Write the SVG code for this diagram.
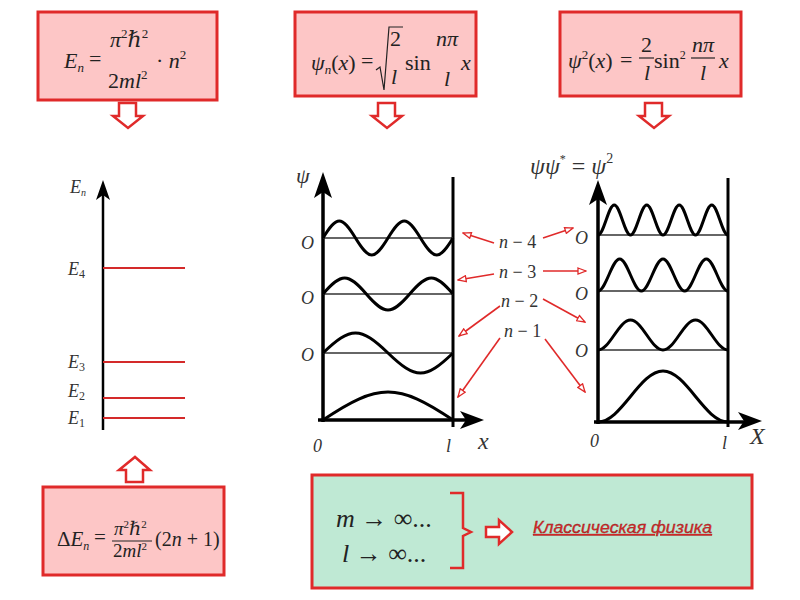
<svg xmlns="http://www.w3.org/2000/svg" width="800" height="600" viewBox="0 0 800 600">
<defs>
<style>
.box{fill:#fdc6c6;stroke:#e02a2a;stroke-width:3}
.gbox{fill:#bfe9d4;stroke:#e02a2a;stroke-width:3}
.harrow{fill:#ffffff;stroke:#e02a2a;stroke-width:2.5;stroke-linejoin:miter}
.m{font-family:"Liberation Serif","DejaVu Serif",serif;font-style:italic;font-size:22px;fill:#222}
.r{font-family:"Liberation Serif","DejaVu Serif",serif;font-style:normal;font-size:22px;fill:#222}
.up{font-style:normal}
.lab{font-family:"Liberation Serif","DejaVu Serif",serif;font-style:italic;font-size:18px;fill:#333}
.axis{stroke:#000;stroke-width:3.5;fill:none}
.wall{stroke:#000;stroke-width:3;fill:none}
.base{stroke:#333;stroke-width:1.5;fill:none}
.wave{stroke:#000;stroke-width:3;fill:none;stroke-linejoin:round}
.lvl{stroke:#d42a2a;stroke-width:2}
.conn{stroke:#e02a2a;stroke-width:1.6;fill:none;marker-end:url(#oa)}
</style>
<marker id="oa" viewBox="0 0 10 8" refX="9" refY="4" markerWidth="10" markerHeight="8" markerUnits="userSpaceOnUse" orient="auto">
<path d="M1,1 L9,4 L1,7 Z" fill="#fff" stroke="#e02a2a" stroke-width="1.3"/>
</marker>
</defs>

<!-- Formula boxes -->
<g id="box-energy">
<rect class="box" x="38" y="12" width="179" height="88"/>
<text class="m" x="64" y="68">E<tspan style="font-size:13px" dy="4">n</tspan></text>
<text class="r" x="89" y="66">=</text>
<text class="m" x="110" y="47">π<tspan class="up" style="font-size:13px" dy="-9">2</tspan><tspan dy="9">ℏ</tspan><tspan class="up" style="font-size:13px" dy="-9">2</tspan></text>
<text class="m" x="108" y="88"><tspan class="up">2</tspan>ml<tspan class="up" style="font-size:13px" dy="-9">2</tspan></text>
<text class="m" x="156" y="68"><tspan class="up">·</tspan> n<tspan class="up" style="font-size:13px" dy="-9">2</tspan></text>
</g>

<g id="box-psi">
<rect class="box" x="295" y="12" width="181" height="84"/>
<text class="m" x="311" y="70">ψ<tspan style="font-size:13px" dy="4">n</tspan><tspan class="up" dy="-4">(</tspan>x<tspan class="up">)</tspan></text>
<text class="r" x="361" y="68">=</text>
<path d="M376,70 L380,67 L384,90 L389,27 L403,27" fill="none" stroke="#222" stroke-width="1.2"/>
<text class="r" x="390" y="46">2</text>
<text class="m" x="391" y="84">l</text>
<text class="r" x="405" y="70">sin</text>
<text class="m" x="436" y="46">nπ</text>
<text class="m" x="444" y="86">l</text>
<text class="m" x="461" y="70">x</text>
</g>

<g id="box-psi2">
<rect class="box" x="560" y="12" width="181" height="84"/>
<text class="m" x="568" y="68">ψ<tspan class="up" style="font-size:13px" dy="-9">2</tspan><tspan class="up" dy="9">(</tspan>x<tspan class="up">)</tspan></text>
<text class="r" x="620" y="67">=</text>
<text class="r" x="641" y="52">2</text>
<line x1="639" y1="58" x2="654" y2="58" stroke="#222" stroke-width="1.2"/>
<text class="m" x="644" y="80">l</text>
<text class="r" x="654" y="68">sin<tspan style="font-size:12px" dy="-9">2</tspan></text>
<text class="m" x="692" y="52">nπ</text>
<line x1="691" y1="58" x2="715" y2="58" stroke="#222" stroke-width="1.2"/>
<text class="m" x="700" y="80">l</text>
<text class="m" x="719" y="68">x</text>
</g>

<g id="box-delta">
<rect class="box" x="43" y="487" width="181" height="88"/>
<text class="m" x="57" y="546" style="font-size:21px"><tspan class="up">Δ</tspan>E<tspan style="font-size:12px" dy="4">n</tspan></text>
<text class="r" x="94" y="544" style="font-size:21px">=</text>
<text class="m" x="114" y="535" style="font-size:19px">π<tspan class="up" style="font-size:11px" dy="-7">2</tspan><tspan dy="7">ℏ</tspan><tspan class="up" style="font-size:11px" dy="-7">2</tspan></text>
<line x1="112" y1="541" x2="152" y2="541" stroke="#222" stroke-width="1.1"/>
<text class="m" x="113" y="557" style="font-size:19px"><tspan class="up">2</tspan>ml<tspan class="up" style="font-size:11px" dy="-7">2</tspan></text>
<text class="r" x="155" y="546" style="font-size:20px">(2<tspan class="m" style="font-size:20px">n</tspan> + 1)</text>
</g>

<g id="box-classic">
<rect class="gbox" x="312" y="475" width="440" height="113"/>
<text class="m" x="336" y="527" style="font-size:26px">m <tspan class="up">→ ∞...</tspan></text>
<text class="m" x="342" y="562" style="font-size:26px">l <tspan class="up">→ ∞...</tspan></text>
<path d="M450,493 L463,493 L463,528 L471,532 L463,536 L463,568 L450,568" fill="none" stroke="#e02a2a" stroke-width="2.5"/>
<path class="harrow" d="M486,527 L499,527 L499,520 L512,532 L499,544 L499,537 L486,537 Z"/>
<text x="533" y="533" font-family="'Liberation Sans','DejaVu Sans',sans-serif" font-style="italic" font-size="16" fill="#e02a2a" stroke="#7a1a1a" stroke-width="0.3" text-decoration="underline" textLength="179" lengthAdjust="spacingAndGlyphs">Классическая физика</text>
</g>

<!-- hollow block arrows -->
<g id="arrows-block">
<path class="harrow" d="M119,103 L136,103 L136,116 L143,116 L128,128 L113,116 L119,116 Z"/>
<path class="harrow" d="M378,103 L395,103 L395,116 L402,116 L387,128 L372,116 L378,116 Z"/>
<path class="harrow" d="M645,103 L662,103 L662,116 L669,116 L654,128 L639,116 L645,116 Z"/>
<path class="harrow" d="M126,482 L143,482 L143,470 L150,470 L135,457 L119,470 L126,470 Z"/>
</g>

<!-- Energy levels -->
<g id="energy-diagram">
<line x1="103" y1="190" x2="103" y2="430" stroke="#000" stroke-width="2.5"/>
<path d="M103,180 L96,200 L103,195 L110,200 Z" fill="#000"/>
<line class="lvl" x1="103" y1="268" x2="185" y2="268"/>
<line class="lvl" x1="103" y1="362" x2="185" y2="362"/>
<line class="lvl" x1="103" y1="398" x2="185" y2="398"/>
<line class="lvl" x1="103" y1="418" x2="185" y2="418"/>
<text class="lab" x="70" y="193">E<tspan style="font-size:10px" dy="3">n</tspan></text>
<text class="lab" x="68" y="275">E<tspan class="up" style="font-size:12px" dy="3">4</tspan></text>
<text class="lab" x="68" y="368">E<tspan class="up" style="font-size:12px" dy="3">3</tspan></text>
<text class="lab" x="68" y="397">E<tspan class="up" style="font-size:12px" dy="3">2</tspan></text>
<text class="lab" x="68" y="424">E<tspan class="up" style="font-size:12px" dy="3">1</tspan></text>
</g>

<!-- psi plot -->
<g id="psi-plot">
<line class="axis" x1="323" y1="185" x2="323" y2="422"/>
<path d="M323,172 L314,198 L323,192 L332,198 Z" fill="#000"/>
<line class="axis" x1="318" y1="420" x2="470" y2="420"/>
<path d="M484,420 L460,411 L466,420 L460,429 Z" fill="#000"/>
<line class="wall" x1="453" y1="177" x2="453" y2="427"/>
<line class="base" x1="323" y1="238" x2="453" y2="238"/>
<line class="base" x1="323" y1="294" x2="453" y2="294"/>
<line class="base" x1="323" y1="353" x2="453" y2="353"/>
<path class="wave" d="M323,238 C336.8,215.3 341.7,215.3 355.5,238 S374.2,260.7 388,238 S406.7,215.3 420.5,238 S439.2,260.7 453,238"/>
<path class="wave" d="M323,294 C341.4,272.7 347.9,272.7 366.3,294 S391.3,315.3 409.7,294 S434.6,272.7 453,294"/>
<path class="wave" d="M323,353 C350.6,326.3 360.4,326.3 388,353 S425.4,379.7 453,353"/>
<path class="wave" d="M323,420 C378.2,382.7 397.8,382.7 453,420"/>
<text class="lab" x="296" y="183" style="font-size:22px">ψ</text>
<text class="lab" x="301" y="249">O</text>
<text class="lab" x="301" y="304">O</text>
<text class="lab" x="301" y="361">O</text>
<text class="lab" x="313" y="452">0</text>
<text class="lab" x="446" y="452">l</text>
<text class="lab" x="478" y="449" style="font-size:24px">x</text>
</g>

<!-- psi squared plot -->
<g id="psi2-plot">
<line class="axis" x1="598" y1="192" x2="598" y2="424"/>
<path d="M598,180 L589,205 L598,199 L607,205 Z" fill="#000"/>
<line class="axis" x1="594" y1="422" x2="748" y2="422"/>
<path d="M762,421 L738,412 L744,421 L738,430 Z" fill="#000"/>
<line class="wall" x1="728" y1="178" x2="728" y2="427"/>
<line class="base" x1="598" y1="235" x2="728" y2="235"/>
<line class="base" x1="598" y1="291" x2="728" y2="291"/>
<line class="base" x1="598" y1="350" x2="728" y2="350"/>
<path class="wave" d="M598,235 C603.85,235 608.4,205 614.25,205 S624.65,235 630.5,235 S640.9,205 646.75,205 S657.15,235 663,235 S673.4,205 679.25,205 S689.65,235 695.5,235 S705.9,205 711.75,205 S722.15,235 728,235"/>
<path class="wave" d="M598,291 C605.8,291 611.87,259 619.67,259 S633.53,291 641.33,291 S655.2,259 663,259 S676.87,291 684.67,291 S698.53,259 706.33,259 S720.2,291 728,291"/>
<path class="wave" d="M598,350 C609.7,350 618.8,320 630.5,320 S651.3,350 663,350 S683.8,320 695.5,320 S716.3,350 728,350"/>
<path class="wave" d="M598,422 C621.4,422 639.6,371 663,371 S704.6,422 728,422"/>
<text class="lab" x="530" y="174" style="font-size:24px">ψψ<tspan class="up" style="font-size:12px" dy="-11">*</tspan><tspan class="up" dy="11"> = </tspan>ψ<tspan class="up" style="font-size:14px" dy="-11">2</tspan></text>
<text class="lab" x="575" y="244">O</text>
<text class="lab" x="575" y="300">O</text>
<text class="lab" x="575" y="357">O</text>
<text class="lab" x="590" y="447">0</text>
<text class="lab" x="722" y="449">l</text>
<text class="lab" x="750" y="444" style="font-size:24px">X</text>
</g>

<!-- n labels -->
<g id="n-labels">
<text class="lab" x="499" y="248">n<tspan class="up"> − 4</tspan></text>
<text class="lab" x="499" y="278">n<tspan class="up"> − 3</tspan></text>
<text class="lab" x="501" y="307">n<tspan class="up"> − 2</tspan></text>
<text class="lab" x="504" y="337">n<tspan class="up"> − 1</tspan></text>
</g>

<g id="connectors">
<line class="conn" x1="494" y1="243" x2="463" y2="233"/>
<line class="conn" x1="543" y1="238" x2="573" y2="228"/>
<line class="conn" x1="494" y1="274" x2="458" y2="280"/>
<line class="conn" x1="543" y1="271" x2="586" y2="271"/>
<line class="conn" x1="500" y1="306" x2="459" y2="336"/>
<line class="conn" x1="543" y1="299" x2="585" y2="322"/>
<line class="conn" x1="500" y1="338" x2="458" y2="397"/>
<line class="conn" x1="545" y1="339" x2="585" y2="392"/>
</g>
</svg>
